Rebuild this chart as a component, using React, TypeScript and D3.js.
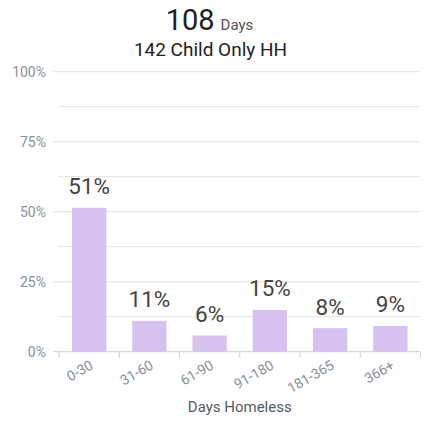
import React from "react";
import * as d3 from "d3";

const categories = ["0-30", "31-60", "61-90", "91-180", "181-365", "366+"];
const values = [51.4, 11.0, 5.8, 14.9, 8.4, 9.2];
const majorTicks = [0, 25, 50, 75, 100];
const minorTicks = [12.5, 37.5, 62.5, 87.5];
const titleNumber = "108";
const titleUnit = "Days";
const subtitle = "142 Child Only HH";
const xAxisTitle = "Days Homeless";

const W = 430;
const H = 422;
const FONT = "Roboto, 'Noto Sans', sans-serif";

export default function App() {
  const left = 59;
  const right = 420.5;
  const top = 71.7;
  const bottom = 351.7;

  const x = d3
    .scaleBand<string>()
    .domain(categories)
    .range([left, right])
    .paddingInner(0.43)
    .paddingOuter(0.215);
  const step = x.step();
  const y = d3.scaleLinear().domain([0, 100]).range([bottom, top]);
  const boundaries = d3.range(categories.length + 1).map((i) => left + i * step);

  return (
    <svg
      width={W}
      height={H}
      style={{ position: "absolute", left: 0, top: 0, background: "#fff" }}
      fontFamily={FONT}
    >
      {/* Title */}
      <text x={209.5} y={29.5} textAnchor="middle" fill="#222">
        <tspan fontSize={29}>{titleNumber}</tspan>
        <tspan fontSize={15} dx={6} fill="#555">
          {titleUnit}
        </tspan>
      </text>
      <text x={210.5} y={56} textAnchor="middle" fontSize={19} fill="#222">
        {subtitle}
      </text>

      {/* Minor gridlines */}
      {minorTicks.map((t) => (
        <line key={"m" + t} x1={58} x2={right} y1={y(t)} y2={y(t)} stroke="#e3e3e3" strokeWidth={1} />
      ))}
      {/* Major gridlines */}
      {majorTicks.map((t) => (
        <g key={"M" + t}>
          <line
            x1={53}
            x2={right}
            y1={y(t)}
            y2={y(t)}
            stroke={t === 0 ? "#cfcfcf" : "#e0e0e0"}
            strokeWidth={1}
          />
          <text
            x={46}
            y={y(t)}
            dy="0.35em"
            textAnchor="end"
            fontSize={14}
            fill="#8a9099"
          >
            {t}%
          </text>
        </g>
      ))}

      {/* Bars */}
      {categories.map((c, i) => (
        <g key={c}>
          <rect
            x={x(c)}
            y={y(values[i])}
            width={x.bandwidth()}
            height={bottom - y(values[i])}
            fill="#d5c2f0"
          />
          <text
            x={(x(c) as number) + x.bandwidth() / 2}
            y={y(values[i]) - 13.5}
            textAnchor="middle"
            fontSize={22.5}
            fill="#444"
          >
            {Math.round(values[i])}%
          </text>
        </g>
      ))}

      {/* X axis ticks */}
      {boundaries.map((bx, i) => (
        <line key={"t" + i} x1={bx} x2={bx} y1={bottom} y2={bottom + 6} stroke="#cfcfcf" strokeWidth={1} />
      ))}
      {categories.map((c) => {
        const cx = (x(c) as number) + x.bandwidth() / 2 + 5;
        const cy = 368;
        return (
          <text
            key={"l" + c}
            x={cx}
            y={cy}
            textAnchor="end"
            fontSize={14}
            fill="#8a9099"
            transform={`rotate(-30 ${cx} ${cy})`}
          >
            {c}
          </text>
        );
      })}

      <text x={(left + right) / 2} y={411.5} textAnchor="middle" fontSize={15} fill="#555b63">
        {xAxisTitle}
      </text>
    </svg>
  );
}
